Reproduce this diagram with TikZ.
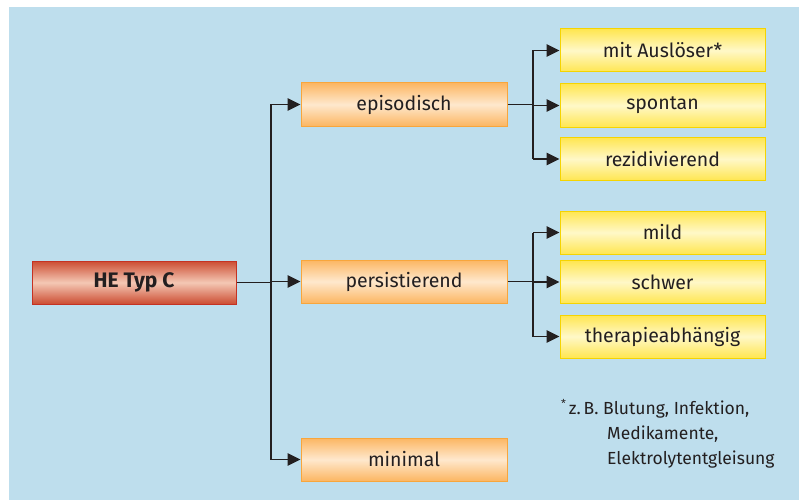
\documentclass[tikz,border=0pt]{standalone}
\usepackage{fontspec}
\setmainfont{Fira Sans}
\usetikzlibrary{arrows.meta}
\definecolor{bgblue}{RGB}{190,222,237}
\definecolor{redE}{RGB}{204,76,50}
\definecolor{redM}{RGB}{244,200,180}
\definecolor{redB}{RGB}{196,50,35}
\definecolor{orE}{RGB}{252,182,98}
\definecolor{orM}{RGB}{254,232,205}
\definecolor{orB}{RGB}{248,166,60}
\definecolor{yeE}{RGB}{255,230,80}
\definecolor{yeM}{RGB}{255,248,200}
\definecolor{yeB}{RGB}{245,212,0}
\definecolor{txt}{RGB}{35,31,32}
\tikzset{
  box/.style={minimum height=43pt, inner sep=0pt, font=\fontsize{19.5}{22}\selectfont, text=txt},
  redbox/.style={box, minimum width=204pt, draw=redB, line width=1pt, top color=redE, bottom color=redE, middle color=redM, font=\fontsize{21}{24}\selectfont\bfseries},
  orbox/.style={box, minimum width=206pt, draw=orB, line width=1pt, top color=orE, bottom color=orE, middle color=orM},
  yebox/.style={box, minimum width=205pt, draw=yeB, line width=1pt, top color=yeE, bottom color=yeE, middle color=yeM},
  conn/.style={draw=txt, line width=1.3pt, -{Triangle[length=13pt,width=12.5pt]}},
  plain/.style={draw=txt, line width=1.3pt},
}
\begin{document}
\begin{tikzpicture}[x=1pt,y=-1pt]
\useasboundingbox (0,0) rectangle (799,500);
\fill[bgblue] (9,7) rectangle (799,500);
\node[redbox] (he) at (134,282.5) {HE Typ C};
\node[orbox] (epi) at (404,104.5) {episodisch};
\node[orbox] (per) at (404,281.5) {persistierend};
\node[orbox] (min) at (404,459.5) {minimal};
\node[yebox] (aus) at (662.5,50.5) {mit Auslöser*};
\node[yebox] (spo) at (662.5,105.5) {spontan};
\node[yebox] (rez) at (662.5,159) {rezidivierend};
\node[yebox] (mil) at (662.5,232.5) {mild};
\node[yebox] (sch) at (662.5,282) {schwer};
\node[yebox] (the) at (662.5,336.5) {therapieabhängig};
\coordinate (t1) at (271,0);
\coordinate (t2) at (533,0);
\draw[plain] (he.east) -- (he.east -| t1);
\draw[conn] (epi.west -| t1) -- (epi.west);
\draw[conn] (per.west -| t1) -- (per.west);
\draw[conn] (min.west -| t1) -- (min.west);
\draw[plain] (epi.west -| t1) -- (min.west -| t1);
\draw[plain] (epi.east) -- (epi.east -| t2);
\draw[plain] (aus.west -| t2) -- (rez.west -| t2);
\draw[conn] (aus.west -| t2) -- (aus.west);
\draw[conn] (spo.west -| t2) -- (spo.west);
\draw[conn] (rez.west -| t2) -- (rez.west);
\draw[plain] (per.east) -- (per.east -| t2);
\draw[plain] (mil.west -| t2) -- (the.west -| t2);
\draw[conn] (mil.west -| t2) -- (mil.west);
\draw[conn] (sch.west -| t2) -- (sch.west);
\draw[conn] (the.west -| t2) -- (the.west);
\node[anchor=north west, inner sep=0pt, text=txt, font=\fontsize{17.5}{25}\selectfont, align=left] (fn) at (561,399)
  {\raisebox{0.4em}{\fontsize{11}{11}\selectfont*}\,z.\,B. Blutung, Infektion,\\
   \hspace*{46pt}Medikamente,\\
   \hspace*{46pt}Elektrolytentgleisung};
\end{tikzpicture}
\end{document}
